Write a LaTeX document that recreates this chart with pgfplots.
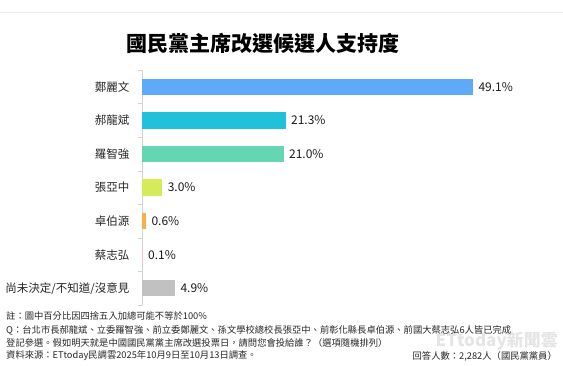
\documentclass[border=0pt]{standalone}
\usepackage{pgfplots}
\pgfplotsset{compat=1.18}
\usepackage{fontspec}
\setmainfont{Noto Sans CJK TC}
\definecolor{cBlue}{HTML}{5EAAF8}
\definecolor{cCyan}{HTML}{22C1DA}
\definecolor{cTeal}{HTML}{64D6B2}
\definecolor{cLime}{HTML}{D5EB5A}
\definecolor{cOrange}{HTML}{F6B04A}
\definecolor{cPink}{HTML}{F7C3D2}
\definecolor{cGray}{HTML}{C1C1C1}
\begin{document}
\begin{tikzpicture}[x=1pt,y=1pt]
\path[use as bounding box] (0,0) rectangle (563,366);
\draw[gray!15, line width=0.8pt] (0,354) -- (563,354);
\node[font=\fontsize{21}{24}\selectfont\bfseries] at (263,323) {國民黨主席改選候選人支持度};
\begin{axis}[
  at={(142pt,61pt)}, anchor=south west,
  scale only axis, width=404.5pt, height=235pt,
  xmin=0, xmax=60, ymin=-0.5, ymax=6.5, y dir=reverse,
  axis x line=none, axis y line=left,
  y axis line style={-, draw=gray!35},
  ytick={0,...,6},
  yticklabels={鄭麗文,郝龍斌,羅智強,張亞中,卓伯源,蔡志弘,尚未決定/不知道/沒意見},
  major tick length=0pt,
  minor ytick={-0.5,0.5,...,6.5},
  minor tick length=4pt, tick align=outside,
  minor tick style={draw=gray!35},
  yticklabel style={font=\fontsize{11.5}{13}\selectfont, xshift=-9pt, text=black!85},
  xbar, bar width=16.5pt, bar shift=0pt,
  point meta=explicit symbolic,
  nodes near coords={\pgfplotspointmeta},
  nodes near coords style={font=\fontsize{12}{14}\selectfont, anchor=west, xshift=2pt, text=black!90},
  clip=false,
]
\addplot[fill=cBlue, draw=none] coordinates {(49.1,0) [49.1\%]};
\addplot[fill=cCyan, draw=none] coordinates {(21.3,1) [21.3\%]};
\addplot[fill=cTeal, draw=none] coordinates {(21.0,2) [21.0\%]};
\addplot[fill=cLime, draw=none] coordinates {(3.0,3) [3.0\%]};
\addplot[fill=cOrange, draw=none] coordinates {(0.6,4) [0.6\%]};
\addplot[fill=cPink, draw=none] coordinates {(0.1,5) [0.1\%]};
\addplot[fill=cGray, draw=none] coordinates {(4.9,6) [4.9\%]};
\end{axis}
\node[font=\fontsize{17}{18}\selectfont\bfseries, text=gray!20, anchor=east, inner sep=0pt] at (558,25) {ETtoday新聞雲};
\begin{scope}[every node/.style={font=\fontsize{9.3}{11}\selectfont, anchor=west, inner sep=0pt, text=black!85}]
\node at (6,50) {註：圖中百分比因四捨五入加總可能不等於100\%};
\node at (6,36) {Q：台北市長郝龍斌、立委羅智強、前立委鄭麗文、孫文學校總校長張亞中、前彰化縣長卓伯源、前國大蔡志弘6人皆已完成};
\node at (6,23) {登記參選。假如明天就是中國國民黨黨主席改選投票日，請問您會投給誰？（選項隨機排列）};
\node at (6,10) {資料來源：ETtoday民調雲2025年10月9日至10月13日調查。};
\node[anchor=east] at (557,10) {回答人數：2,282人（國民黨黨員）};
\end{scope}
\end{tikzpicture}
\end{document}
